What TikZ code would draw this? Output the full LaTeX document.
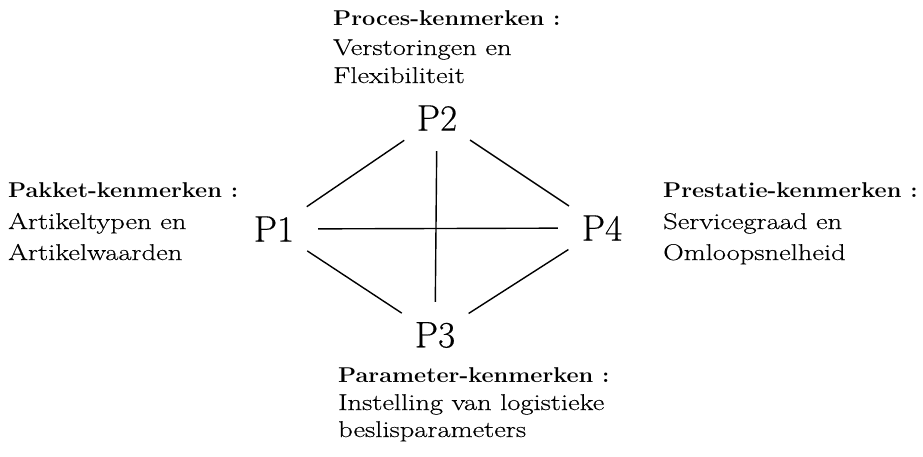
\documentclass[tikz,border=0pt]{standalone}
\usepackage{fontspec}
\newfontfamily\kmfont{Latin Modern Roman}[FakeStretch=1.25,FakeBold=0.4]
\newfontfamily\kmheadfont{Latin Modern Roman}[FakeStretch=1.1]
\newfontfamily\kmpfont{Latin Modern Roman}[FakeBold=0.4]
\usetikzlibrary{positioning,shapes.geometric}

\begin{document}
\begin{tikzpicture}[x=1pt,y=-1pt,
    pnode/.style={ellipse,inner sep=0pt,minimum width=88pt,minimum height=66pt,font=\kmpfont\fontsize{37}{37}\selectfont},
    headtxt/.style={anchor=base west,inner sep=0pt,font=\kmheadfont\bfseries\fontsize{21.4}{21.4}\selectfont},
    bodytxt/.style={anchor=base west,inner sep=0pt,font=\kmfont\fontsize{22.8}{22.8}\selectfont},
    link/.style={line width=1.4pt}]
        \useasboundingbox (0,0) rectangle (923,456);
        % the four P's
        \node[pnode] (p1) at (274,229) {P1};
        \node[pnode] (p2) at (437,118) {P2};
        \node[pnode] (p3) at (435,335) {P3};
        \node[pnode] (p4) at (602,228) {P4};
        \draw[link] (p1) -- (p2);
        \draw[link] (p2) -- (p4);
        \draw[link] (p1) -- (p3);
        \draw[link] (p3) -- (p4);
        \draw[link] (p1) -- (p4);
        \draw[link] (p2) -- (p3);
        % kenmerken
        \node[headtxt] (proceshead) at (333,25) {Proces-kenmerken :};
        \node[bodytxt] (proces1) at (333,55) {Verstoringen en};
        \node[bodytxt] (proces2) at (333,83) {Flexibiliteit};
        \node[headtxt] (pakkethead) at (8,197) {Pakket-kenmerken :};
        \node[bodytxt] (pakket1) at (8,229) {Artikeltypen en};
        \node[bodytxt] (pakket2) at (8,260) {Artikelwaarden};
        \node[headtxt] (prestatiehead) at (663,197) {Prestatie-kenmerken :};
        \node[bodytxt] (prestatie1) at (663,229) {Servicegraad en};
        \node[bodytxt] (prestatie2) at (663,260) {Omloopsnelheid};
        \node[headtxt] (parameterhead) at (338,382) {Parameter-kenmerken :};
        \node[bodytxt] (parameter1) at (338,410) {Instelling van logistieke};
        \node[bodytxt] (parameter2) at (338,437) {beslisparameters};
\end{tikzpicture}
\end{document}
